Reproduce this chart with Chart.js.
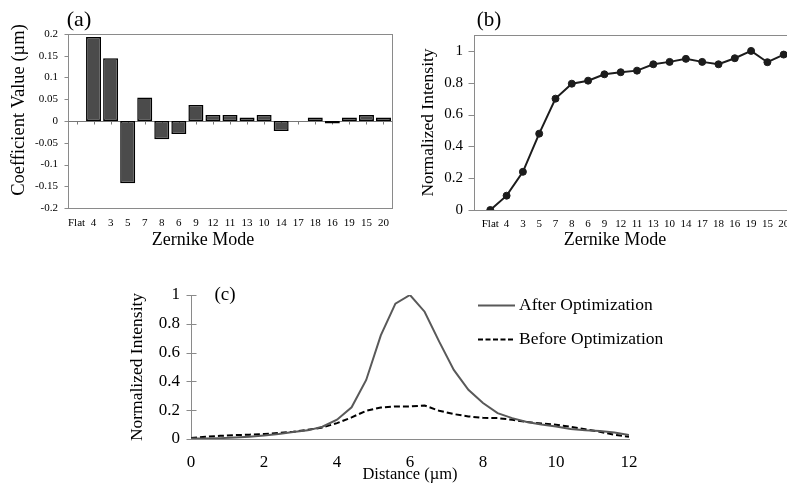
<!DOCTYPE html>
<html>
<head>
<meta charset="utf-8">
<script src="https://cdn.jsdelivr.net/npm/chart.js@4.4.1/dist/chart.umd.min.js"></script>
<style>
  html, body { margin: 0; padding: 0; background: #fff; }
  body { width: 787px; height: 485px; position: relative; overflow: hidden; }
  canvas { position: absolute; }
  #grafA { left: 0; top: 0; }
  #grafB { left: 395px; top: 0; }
  #grafC { left: 120px; top: 255px; }
</style>
</head>
<body>
<canvas id="grafA" width="400" height="252"></canvas>
<canvas id="grafB" width="420" height="252"></canvas>
<canvas id="grafC" width="580" height="230"></canvas>
<script>
const zernikeModes = ['Flat', '4', '3', '5', '7', '8', '6', '9', '12', '11', '13', '10', '14', '17', '18', '16', '19', '15', '20']
const coefValues = [0, 0.193, 0.144, -0.143, 0.054, -0.042, -0.030, 0.037, 0.014, 0.014, 0.008, 0.014, -0.023, 0, 0.008, -0.006, 0.008, 0.014, 0.008]
const modeIntensity = [0, 0.09, 0.24, 0.48, 0.70, 0.794, 0.813, 0.853, 0.866, 0.876, 0.916, 0.931, 0.95, 0.931, 0.916, 0.954, 1.0, 0.929, 0.977]
const intensityTicks = [0, 0.2, 0.4, 0.6, 0.8, 1]

const distance = [0, 0.4, 0.8, 1.2, 1.6, 2.0, 2.4, 2.8, 3.2, 3.6, 4.0, 4.4, 4.8, 5.2, 5.6, 6.0,
  6.4, 6.8, 7.2, 7.6, 8.0, 8.4, 8.8, 9.2, 9.6, 10.0, 10.4, 10.8, 11.2, 11.6, 12.0]
const afterOpt = [0.003, 0.004, 0.006, 0.01, 0.016, 0.025, 0.035, 0.048, 0.06, 0.085, 0.134, 0.22, 0.41, 0.72, 0.94, 1.0,
  0.884, 0.676, 0.48, 0.342, 0.25, 0.18, 0.145, 0.118, 0.1, 0.087, 0.07, 0.06, 0.055, 0.045, 0.028]
const beforeOpt = [0.007, 0.015, 0.022, 0.027, 0.03, 0.035, 0.042, 0.05, 0.064, 0.08, 0.11, 0.15, 0.196, 0.219, 0.226, 0.226,
  0.233, 0.196, 0.173, 0.157, 0.147, 0.145, 0.134, 0.118, 0.108, 0.099, 0.085, 0.068, 0.05, 0.03, 0.015]

const fontFamily = '"Liberation Serif", "Times New Roman", serif'
const axisGray = '#8a8a8a'

Chart.defaults.font.family = fontFamily
Chart.defaults.color = '#000'

// box, tick marks, loose labels and the legend of (c)
const decor = {
  id: 'decor',
  beforeDatasetsDraw(chart, args, opts) {
    const ctx = chart.ctx
    const area = chart.chartArea
    ctx.save()
    ctx.lineWidth = 1
    ctx.strokeStyle = axisGray
    if (opts.box) {
      ctx.strokeRect(Math.round(area.left) + 0.5, Math.round(area.top) + 0.5,
        Math.round(area.right - area.left), Math.round(area.bottom - area.top))
    }
    const tickSpecs = opts.ticks || []
    tickSpecs.forEach(t => {
      const scale = chart.scales[t.scale]
      ctx.strokeStyle = t.color || axisGray
      if (scale.isHorizontal()) {
        const y0 = t.at !== undefined ? chart.scales.y.getPixelForValue(t.at) : area.bottom
        const yy = Math.round(y0) + 0.5
        if (t.line) {
          ctx.beginPath()
          ctx.moveTo(area.left, yy)
          ctx.lineTo(area.right, yy)
          ctx.stroke()
        }
        scale.ticks.forEach((tk, i) => {
          const x = Math.round(scale.getPixelForTick(i)) + 0.5
          ctx.beginPath()
          ctx.moveTo(x, yy - t.inner)
          ctx.lineTo(x, yy + t.outer)
          ctx.stroke()
        })
      } else {
        const xx = Math.round(area.left) + 0.5
        scale.ticks.forEach((tk, i) => {
          const y = Math.round(scale.getPixelForTick(i)) + 0.5
          ctx.beginPath()
          ctx.moveTo(xx - t.outer, y)
          ctx.lineTo(xx + t.inner, y)
          ctx.stroke()
        })
      }
    })
    ctx.restore()
  },
  afterDraw(chart, args, opts) {
    const ctx = chart.ctx
    ctx.save()
    ctx.fillStyle = '#000'
    ctx.textAlign = 'center'
    ctx.textBaseline = 'middle'
    const texts = opts.texts || []
    texts.forEach(l => {
      ctx.save()
      ctx.font = `${l.size}px ${fontFamily}`
      ctx.translate(l.x, l.y)
      if (l.rot) ctx.rotate(l.rot * Math.PI / 180)
      ctx.fillText(l.text, 0, 0)
      ctx.restore()
    })
    if (opts.legend) {
      const lg = opts.legend
      chart.data.datasets.forEach((ds, i) => {
        const y = Math.round(lg.y + i * lg.dy) + 0.5
        ctx.strokeStyle = ds.borderColor
        ctx.lineWidth = ds.borderWidth
        ctx.setLineDash(ds.borderDash ? lg.dash : [])
        ctx.beginPath()
        ctx.moveTo(lg.x, y)
        ctx.lineTo(lg.x + lg.len, y)
        ctx.stroke()
        ctx.setLineDash([])
        ctx.textAlign = 'left'
        ctx.font = `${lg.size}px ${fontFamily}`
        ctx.fillText(ds.label, lg.x + lg.len + lg.gap, y)
      })
    }
    ctx.restore()
  }
}

const noGrid = { display: false, drawTicks: false }

// (a) coefficients
new Chart(document.getElementById('grafA'), {
  type: 'bar',
  data: {
    labels: zernikeModes,
    datasets: [{
      data: coefValues,
      backgroundColor: '#4b4b4b',
      borderColor: '#000',
      borderWidth: 1.5,
      borderSkipped: false,
      categoryPercentage: 1,
      barPercentage: 0.88,
    }]
  },
  options: {
    responsive: false,
    animation: false,
    devicePixelRatio: 1,
    layout: { padding: { top: 34, right: 8, left: 0, bottom: 0 } },
    plugins: {
      legend: { display: false },
      tooltip: { enabled: false },
      decor: {
        box: true,
        ticks: [
          { scale: 'x', at: 0, line: true, inner: 0, outer: 3, color: '#777' },
          { scale: 'y', inner: 0, outer: 4 },
        ],
        texts: [
          { text: '(a)', x: 79, y: 20, size: 22 },
          { text: 'Coefficient Value (µm)', x: 19, y: 110, size: 18.5, rot: -90 },
          { text: 'Zernike Mode', x: 203, y: 240, size: 18 },
        ]
      }
    },
    scales: {
      x: {
        grid: noGrid,
        border: { display: false },
        ticks: { autoSkip: false, maxRotation: 0, padding: 9, font: { size: 11 } },
        afterFit: s => { s.height = 44 }
      },
      y: {
        min: -0.2,
        max: 0.2,
        grid: noGrid,
        border: { display: false },
        ticks: {
          stepSize: 0.05,
          padding: 10,
          font: { size: 11 },
          callback: v => String(Math.round(v * 100) / 100)
        },
        afterFit: s => { s.width = 68 }
      }
    }
  },
  plugins: [decor]
})

// (b) intensity per mode
new Chart(document.getElementById('grafB'), {
  type: 'line',
  data: {
    datasets: [{
      data: zernikeModes.map((m, i) => ({ x: i, y: modeIntensity[i] })),
      borderColor: '#1c1c1c',
      borderWidth: 2,
      pointRadius: 3.5,
      pointBorderWidth: 1,
      pointBackgroundColor: '#1c1c1c',
      pointBorderColor: '#1c1c1c',
      tension: 0,
    }]
  },
  options: {
    responsive: false,
    animation: false,
    devicePixelRatio: 1,
    layout: { padding: { top: 35, right: 15, left: 0, bottom: 0 } },
    plugins: {
      legend: { display: false },
      tooltip: { enabled: false },
      decor: {
        box: true,
        ticks: [
          { scale: 'x', inner: 3, outer: 3 },
          { scale: 'y', inner: 0, outer: 6 },
        ],
        texts: [
          { text: '(b)', x: 94, y: 20, size: 21 },
          { text: 'Zernike Mode', x: 220, y: 240, size: 18 },
        ]
      }
    },
    scales: {
      x: {
        type: 'linear',
        min: -1,
        max: 19,
        grid: noGrid,
        border: { display: false },
        ticks: {
          stepSize: 1,
          autoSkip: false,
          maxRotation: 0,
          padding: 7.5,
          font: { size: 11 },
          callback: v => zernikeModes[v] ?? ''
        },
        afterFit: s => { s.height = 42 }
      },
      y: {
        min: 0,
        max: 1.1,
        grid: noGrid,
        border: { display: false },
        ticks: {
          padding: 11,
          font: { size: 15 },
          callback: v => String(Math.round(v * 10) / 10)
        },
        afterBuildTicks: s => { s.ticks = intensityTicks.map(v => ({ value: v })) },
        title: {
          display: true,
          text: 'Normalized Intensity',
          font: { size: 17.5 },
          padding: { top: 22.5, bottom: 0 }
        },
        afterFit: s => { s.width = 79 }
      }
    }
  },
  plugins: [decor]
})

// (c) profile across the spot
new Chart(document.getElementById('grafC'), {
  type: 'line',
  data: {
    datasets: [
      {
        label: 'After Optimization',
        data: distance.map((d, i) => ({ x: d, y: afterOpt[i] })),
        borderColor: '#595959',
        borderWidth: 2,
        pointRadius: 0,
        tension: 0,
      },
      {
        label: 'Before Optimization',
        data: distance.map((d, i) => ({ x: d, y: beforeOpt[i] })),
        borderColor: '#000',
        borderWidth: 2,
        borderDash: [6, 3],
        pointRadius: 0,
        tension: 0,
      }
    ]
  },
  options: {
    responsive: false,
    animation: false,
    devicePixelRatio: 1,
    layout: { padding: { top: 40, right: 71, left: 0, bottom: 0 } },
    plugins: {
      legend: { display: false },
      tooltip: { enabled: false },
      decor: {
        ticks: [
          { scale: 'x', inner: 5, outer: 5 },
          { scale: 'y', inner: 5, outer: 5 },
        ],
        texts: [
          { text: '(c)', x: 105, y: 40, size: 19 },
        ],
        legend: { x: 358, y: 50, dy: 34, len: 37, gap: 4, size: 17.5, dash: [5, 2.5] }
      }
    },
    scales: {
      x: {
        type: 'linear',
        min: 0,
        max: 12,
        grid: noGrid,
        border: { display: true, color: axisGray },
        ticks: { stepSize: 2, padding: 13, maxRotation: 0, font: { size: 17 } },
        title: {
          display: true,
          text: 'Distance (µm)',
          font: { size: 16.5 },
          padding: { top: 0, bottom: 0 }
        },
        afterFit: s => { s.height = 46 }
      },
      y: {
        min: 0,
        max: 1,
        grid: noGrid,
        border: { display: true, color: axisGray },
        ticks: {
          stepSize: 0.2,
          padding: 11,
          font: { size: 17 },
          callback: v => String(Math.round(v * 10) / 10)
        },
        title: {
          display: true,
          text: 'Normalized Intensity',
          font: { size: 17.5 },
          padding: { top: 6.5, bottom: 0 }
        },
        afterFit: s => { s.width = 71 }
      }
    }
  },
  plugins: [decor]
})
</script>
</body>
</html>
